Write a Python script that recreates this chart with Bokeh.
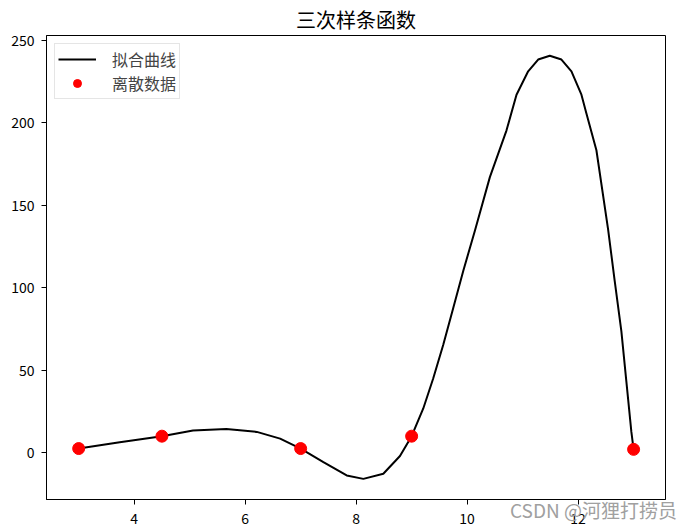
from bokeh.plotting import figure
from bokeh.models import Range1d, FixedTicker, Legend, LegendItem, Title
from bokeh.embed import file_html
from bokeh.resources import INLINE

# discrete data points
data_x = [3.0, 4.5, 7.0, 9.0, 13.0]
data_y = [2.5, 10.0, 2.5, 10.0, 2.0]

# fitted curve
curve_x = [3.0, 3.74, 4.5, 5.06, 5.66, 6.21, 6.63, 7.0, 7.41, 7.83, 8.13, 8.49, 8.79, 9.0,
           9.21, 9.39, 9.57, 9.75, 9.93, 10.14, 10.41, 10.71, 10.89, 11.10, 11.28, 11.49,
           11.70, 11.88, 12.06, 12.15, 12.33, 12.54, 12.66, 12.78, 12.87, 12.96, 13.0]
curve_y = [2.5, 6.3, 10.0, 13.5, 14.4, 12.6, 8.5, 2.5, -5.7, -13.8, -15.9, -12.8, -2.0, 10.0,
           26.8, 45.1, 65.5, 87.8, 110.2, 134.6, 167.1, 195.5, 217.1, 231.3, 238.4, 240.7,
           238.4, 231.3, 217.1, 205.7, 183.4, 135.6, 104.1, 73.6, 43.1, 12.6, 2.0]

x_ticks = [4, 6, 8, 10, 12]
y_ticks = [0, 50, 100, 150, 200, 250]

title_text = "三次样条函数"
line_label = "拟合曲线"
scatter_label = "离散数据"
watermark = "CSDN @河狸打捞员"

FONT = "Noto Sans CJK SC"

p = figure(width=684, height=526, output_backend="svg", toolbar_location=None,
           x_range=Range1d(2.42, 13.575), y_range=Range1d(-28.4, 253.0),
           min_border_left=46, min_border_right=19, min_border_top=35, min_border_bottom=27)

p.title = Title(text=title_text, align="center", text_font=FONT, text_font_size="20px",
                text_font_style="normal", text_color="#000000", standoff=0, offset=0,
                vertical_align="top")

p.xgrid.visible = False
p.ygrid.visible = False
p.outline_line_color = "#000000"
p.outline_line_width = 1
p.background_fill_color = "white"
p.border_fill_color = "white"

for ax in (p.xaxis[0], p.yaxis[0]):
    ax.axis_line_color = "#000000"
    ax.major_tick_line_color = "#000000"
    ax.major_tick_out = 5
    ax.major_tick_in = 0
    ax.minor_tick_line_color = None
    ax.major_label_text_font = FONT
    ax.major_label_text_font_size = "14px"
    ax.major_label_text_color = "#000000"
p.xaxis[0].major_label_standoff = 8
p.yaxis[0].major_label_standoff = 7

p.xaxis[0].ticker = FixedTicker(ticks=x_ticks)
p.yaxis[0].ticker = FixedTicker(ticks=y_ticks)

# watermark drawn as the x-axis label (centred label, shifted right by
# full-width spaces), pulled up beside the tick labels
xa = p.xaxis[0]
xa.axis_label = "\u3000" * 25 + watermark
xa.axis_label_text_font = FONT
xa.axis_label_text_font_size = "19px"
xa.axis_label_text_font_style = "normal"
xa.axis_label_text_color = "#a0a0a0"
xa.axis_label_standoff = -31

r_line = p.line(curve_x, curve_y, line_color="#000000", line_width=2)
r_pts = p.scatter(data_x, data_y, size=12, fill_color="#ff0000", line_color="#ff0000",
                  marker="circle")

legend = Legend(items=[LegendItem(label=line_label, renderers=[r_line]),
                       LegendItem(label=scatter_label, renderers=[r_pts])],
                location="top_left", margin=8, padding=3, spacing=0,
                glyph_width=38, glyph_height=20, label_standoff=16,
                label_text_font=FONT, label_text_font_size="16px",
                label_height=20,
                border_line_color="#cccccc", border_line_width=1,
                background_fill_color="white", background_fill_alpha=0.8)
p.add_layout(legend)

open("out.html", "w").write(file_html(p, INLINE))
